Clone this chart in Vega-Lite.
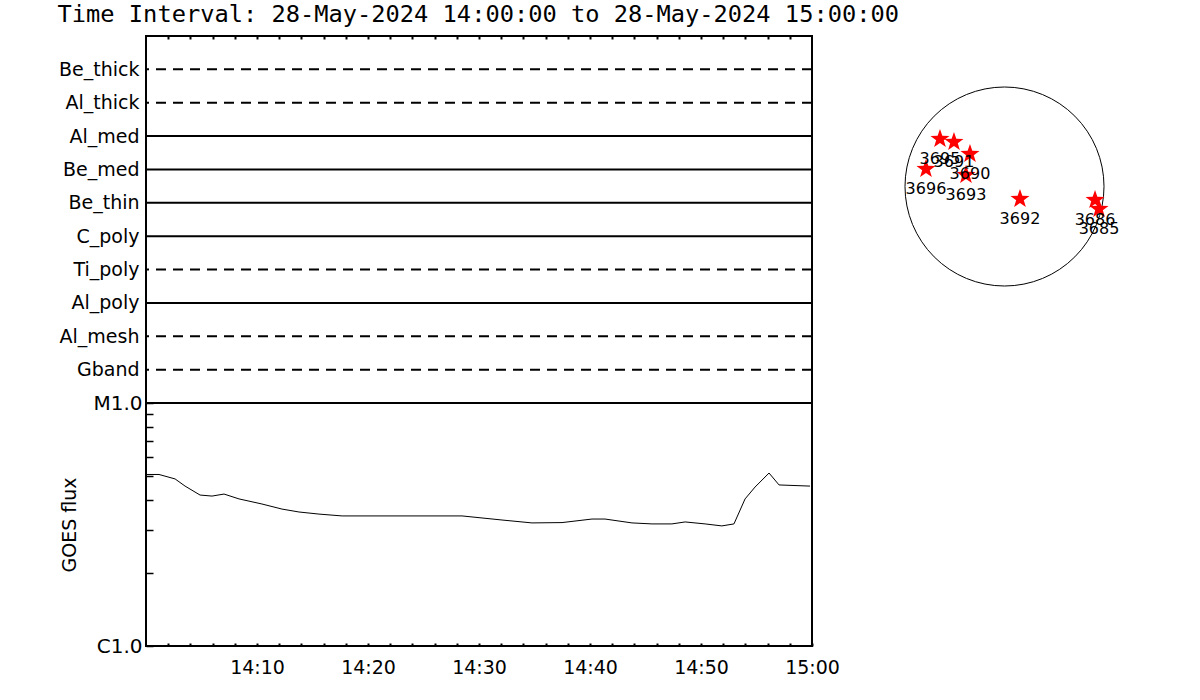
{
  "$schema": "https://vega.github.io/schema/vega-lite/v6.json",
  "padding": {"left": 57, "top": 3, "right": 0, "bottom": 0},
  "background": "white",
  "title": {"text": "Time Interval: 28-May-2024 14:00:00 to 28-May-2024 15:00:00", "anchor": "start", "font": "DejaVu Sans Mono", "fontSize": 23.7, "fontWeight": "normal", "color": "black", "offset": 7},
  "config": {
    "font": "DejaVu Sans",
    "view": {"stroke": "black", "strokeWidth": 2},
    "axis": {"domain": false, "grid": false, "tickColor": "black", "labelColor": "black", "titleColor": "black", "labelFont": "DejaVu Sans", "titleFont": "DejaVu Sans", "titleFontWeight": "normal"}
  },
  "datasets": {
    "filters": [
      {"filter": "Be_thick", "line": "dashed"},
      {"filter": "Al_thick", "line": "dashed"},
      {"filter": "Al_med", "line": "solid"},
      {"filter": "Be_med", "line": "solid"},
      {"filter": "Be_thin", "line": "solid"},
      {"filter": "C_poly", "line": "solid"},
      {"filter": "Ti_poly", "line": "dashed"},
      {"filter": "Al_poly", "line": "solid"},
      {"filter": "Al_mesh", "line": "dashed"},
      {"filter": "Gband", "line": "dashed"}
    ],
    "goes": [
      {"minutes": 0, "flux": 5.08e-6},
      {"minutes": 1.17, "flux": 5.08e-6},
      {"minutes": 2.62, "flux": 4.87e-6},
      {"minutes": 3.52, "flux": 4.55e-6},
      {"minutes": 4.87, "flux": 4.18e-6},
      {"minutes": 5.95, "flux": 4.14e-6},
      {"minutes": 7.03, "flux": 4.22e-6},
      {"minutes": 8.38, "flux": 4.03e-6},
      {"minutes": 10.45, "flux": 3.84e-6},
      {"minutes": 12.25, "flux": 3.66e-6},
      {"minutes": 13.78, "flux": 3.56e-6},
      {"minutes": 15.58, "flux": 3.49e-6},
      {"minutes": 17.67, "flux": 3.43e-6},
      {"minutes": 28.47, "flux": 3.43e-6},
      {"minutes": 32.07, "flux": 3.30e-6},
      {"minutes": 34.77, "flux": 3.21e-6},
      {"minutes": 37.48, "flux": 3.22e-6},
      {"minutes": 40.18, "flux": 3.33e-6},
      {"minutes": 41.35, "flux": 3.33e-6},
      {"minutes": 43.78, "flux": 3.21e-6},
      {"minutes": 45.58, "flux": 3.18e-6},
      {"minutes": 47.38, "flux": 3.18e-6},
      {"minutes": 48.57, "flux": 3.24e-6},
      {"minutes": 50.37, "flux": 3.18e-6},
      {"minutes": 51.88, "flux": 3.12e-6},
      {"minutes": 52.97, "flux": 3.18e-6},
      {"minutes": 53.97, "flux": 4.03e-6},
      {"minutes": 54.87, "flux": 4.51e-6},
      {"minutes": 56.13, "flux": 5.15e-6},
      {"minutes": 57.03, "flux": 4.60e-6},
      {"minutes": 59.82, "flux": 4.55e-6}
    ],
    "sun": [{"x": 0, "y": 0}],
    "regions": [
      {"noaa": "3695", "x": -613, "y": 451},
      {"noaa": "3691", "x": -480, "y": 423},
      {"noaa": "3690", "x": -328, "y": 309},
      {"noaa": "3693", "x": -366, "y": 109},
      {"noaa": "3696", "x": -746, "y": 166},
      {"noaa": "3692", "x": 147, "y": -119},
      {"noaa": "3686", "x": 860, "y": -128},
      {"noaa": "3685", "x": 898, "y": -214}
    ]
  },
  "columns": 2,
  "bounds": "flush",
  "spacing": {"row": 0, "column": 20},
  "concat": [
    {
      "width": 666,
      "height": 367,
      "layer": [
        {
          "data": {"name": "filters"},
          "mark": {"type": "rule", "strokeWidth": 2, "color": "black"},
          "encoding": {
            "y": {"field": "filter", "type": "nominal", "scale": {"type": "point", "padding": 1, "domain": ["Be_thick", "Al_thick", "Al_med", "Be_med", "Be_thin", "C_poly", "Ti_poly", "Al_poly", "Al_mesh", "Gband"]},
              "axis": {"title": null, "ticks": false, "labelFontSize": 19, "labelPadding": 7, "minExtent": 87, "maxExtent": 87}},
            "strokeDash": {"field": "line", "type": "nominal", "scale": {"domain": ["dashed", "solid"], "range": [[10, 7], [1, 0]]}, "legend": null}
          }
        },
        {
          "data": {"name": "goes"},
          "mark": {"type": "rule", "opacity": 0, "clip": true},
          "encoding": {"x": {"field": "minutes", "type": "quantitative", "scale": {"domain": [0, 60], "nice": false, "zero": false},
            "axis": {"orient": "top", "title": null, "labels": false, "offset": -3, "tickSize": 3, "tickWidth": 2, "values": [2, 4, 6, 8, 10, 12, 14, 16, 18, 20, 22, 24, 26, 28, 30, 32, 34, 36, 38, 40, 42, 44, 46, 48, 50, 52, 54, 56, 58]}}}
        }
      ]
    },
    {
      "width": 345,
      "height": 301,
      "view": {"stroke": null},
      "layer": [
        {
          "data": {"name": "sun"},
          "mark": {"type": "point", "shape": "circle", "size": 39601, "filled": false, "color": "black", "strokeWidth": 1, "opacity": 1},
          "encoding": {
            "x": {"field": "x", "type": "quantitative", "scale": {"domain": [-1638.75, 1638.75], "nice": false, "zero": false}, "axis": null},
            "y": {"field": "y", "type": "quantitative", "scale": {"domain": [-1429.75, 1429.75], "nice": false, "zero": false}, "axis": null}
          }
        },
        {
          "data": {"name": "regions"},
          "mark": {"type": "point", "shape": "M0,-1L0.235,-0.324L0.951,-0.309L0.38,0.124L0.588,0.809L0,0.4L-0.588,0.809L-0.38,0.124L-0.951,-0.309L-0.235,-0.324Z", "size": 400, "filled": true, "color": "red", "opacity": 1, "strokeWidth": 0},
          "encoding": {
            "x": {"field": "x", "type": "quantitative"},
            "y": {"field": "y", "type": "quantitative"}
          }
        },
        {
          "data": {"name": "regions"},
          "mark": {"type": "text", "dy": 20, "fontSize": 16, "color": "black", "font": "DejaVu Sans"},
          "encoding": {
            "x": {"field": "x", "type": "quantitative"},
            "y": {"field": "y", "type": "quantitative"},
            "text": {"field": "noaa"}
          }
        }
      ]
    },
    {
      "width": 666,
      "height": 243,
      "data": {"name": "goes"},
      "mark": {"type": "line", "color": "black", "strokeWidth": 1, "clip": true},
      "encoding": {
        "x": {"field": "minutes", "type": "quantitative", "scale": {"domain": [0, 60], "nice": false, "zero": false},
          "axis": {"orient": "bottom", "title": null, "values": [2, 4, 6, 8, 10, 12, 14, 16, 18, 20, 22, 24, 26, 28, 30, 32, 34, 36, 38, 40, 42, 44, 46, 48, 50, 52, 54, 56, 58, 60], "labelExpr": "datum.value == 60 ? '15:00' : (datum.value % 10 == 0 ? '14:' + datum.value : '')", "labelFontSize": 19, "labelPadding": 12, "offset": -3, "tickSize": 3, "tickWidth": 2, "labelFlush": false, "labelOverlap": false}},
        "y": {"field": "flux", "type": "quantitative", "scale": {"type": "log", "domain": [0.000001, 0.00001], "nice": false},
          "axis": {"orient": "left", "title": "GOES flux", "titleFontSize": 19, "titlePadding": 14, "values": [0.000001, 0.000002, 0.000003, 0.000004, 0.000005, 0.000006, 0.000007, 0.000008, 0.000009, 0.00001], "labelExpr": "datum.value > 0.0000095 ? 'M1.0' : (datum.value < 0.0000011 ? 'C1.0' : '')", "labelFontSize": 20, "labelPadding": 4, "offset": -7, "tickSize": 7, "tickWidth": 1.5, "minExtent": 60, "maxExtent": 60, "labelFlush": false, "labelOverlap": false}}
      }
    }
  ]
}
